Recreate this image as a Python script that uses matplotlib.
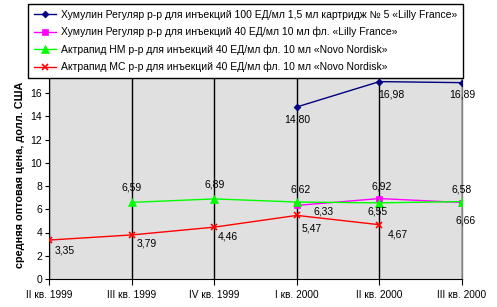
import matplotlib
matplotlib.use('Agg')
import matplotlib.pyplot as plt

plt.rcParams['font.family'] = ['Liberation Sans', 'DejaVu Sans']

# Quarters on the x axis
quarters = ['II кв. 1999', 'III кв. 1999', 'IV кв. 1999', 'I кв. 2000', 'II кв. 2000', 'III кв. 2000']

# Series values (None = no data)
humulin_100 = [None, None, None, 14.80, 16.98, 16.89]
humulin_40 = [None, None, None, 6.33, 6.92, 6.58]
actrapid_nm = [None, 6.59, 6.89, 6.62, 6.55, 6.66]
actrapid_mc = [3.35, 3.79, 4.46, 5.47, 4.67, None]

names = [
    'Хумулин Регуляр р-р для инъекций 100 ЕД/мл 1,5 мл картридж № 5 «Lilly France»',
    'Хумулин Регуляр р-р для инъекций 40 ЕД/мл 10 мл фл. «Lilly France»',
    'Актрапид НМ р-р для инъекций 40 ЕД/мл фл. 10 мл «Novo Nordisk»',
    'Актрапид МС р-р для инъекций 40 ЕД/мл фл. 10 мл «Novo Nordisk»',
]

# label offsets in pixels (dx, dy down) for each point, per series
offs_100 = [None, None, None, (0, 13), (12, 13), (0, 12)]
offs_40 = [None, None, None, (27, 6), (2, -12), (0, -13)]
offs_nm = [None, (0, -15), (0, -14), (4, -13), (-2, 9), (4, 19)]
offs_mc = [(16, 10), (15, 9), (14, 9), (15, 13), (18, 10), None]

fig = plt.figure(figsize=(4.97, 3.07), dpi=100)
ax = fig.add_axes([49 / 497, 1 - 279 / 307, (462 - 49) / 497, 18 * 11.625 / 307])
ax.set_facecolor('#E0E0E0')

x = list(range(len(quarters)))

def pts(vals):
    xs = [i for i, v in zip(x, vals) if v is not None]
    ys = [v for v in vals if v is not None]
    return xs, ys

styles = [
    (humulin_100, offs_100, '#000080', 'D', 3.5),
    (humulin_40, offs_40, '#FF00FF', 's', 5),
    (actrapid_nm, offs_nm, '#00FF00', '^', 5.5),
    (actrapid_mc, offs_mc, '#FF0000', 'x', 5),
]

for k, (vals, offs, col, mk, ms) in enumerate(styles):
    xs, ys = pts(vals)
    ax.plot(xs, ys, color=col, lw=1, marker=mk, ms=ms, mew=1.2 if mk == 'x' else 0.5,
            mec=col, mfc=col, label=names[k], zorder=3 + k * 0.1)
    for i, v in enumerate(vals):
        if v is None:
            continue
        dx, dy = offs[i]
        ax.annotate(('%.2f' % v).replace('.', ','), (i, v), xytext=(dx, -dy),
                    textcoords='offset pixels', ha='center', va='center',
                    fontsize=7.5, color='black', zorder=6)

ax.set_xlim(0, len(quarters) - 1)
ax.set_ylim(0, 18)
ax.set_xticks(x)
ax.set_xticklabels(quarters, fontsize=7.3)
ax.set_yticks(range(0, 17, 2))
ax.tick_params(axis='y', labelsize=7.5, length=3, width=0.8, pad=2)
ax.tick_params(axis='x', length=4, width=0.8, pad=4)
ax.grid(axis='x', color='black', lw=1)
ax.set_axisbelow(True)
for s in ['top', 'right']:
    ax.spines[s].set_color('#808080')
    ax.spines[s].set_linewidth(1)
ax.spines['left'].set_linewidth(0.8)
ax.spines['bottom'].set_linewidth(0.8)

ax.set_ylabel('средняя оптовая цена, долл. США', fontsize=7.8, fontweight='bold', labelpad=4)

leg = fig.legend(loc='upper left', bbox_to_anchor=(28 / 497, 1 - 4 / 307), fontsize=7.45,
                 frameon=True, fancybox=False, framealpha=1, edgecolor='black',
                 handlelength=2.2, handletextpad=0.4, labelspacing=0.68,
                 borderpad=0.55, borderaxespad=0)
leg.get_frame().set_linewidth(1)
leg.set_zorder(10)

fig.savefig('out.png', dpi=100)
